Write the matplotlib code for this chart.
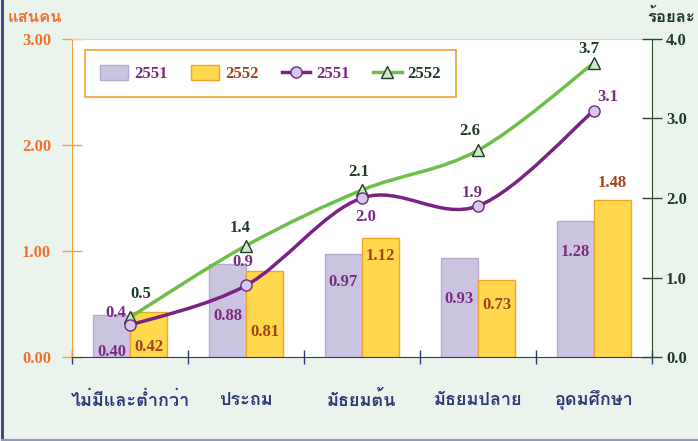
import numpy as np
import matplotlib
matplotlib.use("Agg")
import matplotlib.pyplot as plt
from matplotlib import font_manager
from matplotlib.ft2font import FT2Font
from matplotlib.path import Path
from matplotlib.patches import PathPatch, Patch
from matplotlib.lines import Line2D

categories = ["ไม่มีและต่ำกว่า", "ประถม", "มัธยมต้น", "มัธยมปลาย", "อุดมศึกษา"]
bars_2551 = [0.40, 0.88, 0.97, 0.93, 1.28]
bars_2552 = [0.42, 0.81, 1.12, 0.73, 1.48]
pct_2551 = [0.4, 0.9, 2.0, 1.9, 3.1]
pct_2552 = [0.5, 1.4, 2.1, 2.6, 3.7]
left_ticks = [0.0, 1.0, 2.0, 3.0]
right_ticks = [0.0, 1.0, 2.0, 3.0, 4.0]


def find_thai_family():
    found = []
    for f in font_manager.fontManager.ttflist:
        try:
            if 0x0E01 in FT2Font(f.fname).get_charmap():
                found.append(f.name)
        except Exception:
            pass
    return found[0] if found else "DejaVu Sans"


thai = find_thai_family()
num_font = ["Liberation Serif", "DejaVu Serif"]
thai_font = ["Liberation Serif", thai, "DejaVu Sans"]

c_purple = "#7b2a82"
c_brown = "#a4421a"
c_green_txt = "#1f3b26"
c_orange = "#f0702e"
c_navy = "#2e3a78"


def smooth_path(xs, ys):
    # Catmull-Rom style Bezier through the points (like Excel smoothed lines)
    pts = np.column_stack([xs, ys]).astype(float)
    n = len(pts)
    verts = [pts[0]]
    codes = [Path.MOVETO]
    for i in range(n - 1):
        p0 = pts[i - 1] if i > 0 else pts[i]
        p1 = pts[i]
        p2 = pts[i + 1]
        p3 = pts[i + 2] if i + 2 < n else pts[i + 1]
        verts += [p1 + (p2 - p0) / 6, p2 - (p3 - p1) / 6, p2]
        codes += [Path.CURVE4] * 3
    return Path(verts, codes)


fig = plt.figure(figsize=(6.98, 4.41), dpi=100)
fig.patch.set_facecolor("#eaf4ec")
ax = fig.add_axes([72 / 698, 1 - 357 / 441, 580 / 698, 318 / 441])
ax.set_facecolor("white")
x = np.arange(len(categories))
w = 0.32

ax.bar(x - w / 2, bars_2551, w, color="#cbc4e0", edgecolor="#b8a8d4", linewidth=1, zorder=2)
ax.bar(x + w / 2, bars_2552, w, color="#ffd84e", edgecolor="#f5a22a", linewidth=1, zorder=2)
ax.set_xlim(-0.5, len(categories) - 0.5)
ax.set_ylim(0, 3)

# bar value labels (offsets in points)
off_2551 = [-27, -38, -20, -29, -22]
off_2552 = [-25, -44, -13, -18, 12]
for i in range(len(categories)):
    ax.annotate(f"{bars_2551[i]:.2f}", (x[i] - w / 2, bars_2551[i]), xytext=(0, off_2551[i]),
                textcoords="offset points", ha="center", va="center", fontsize=12,
                fontweight="bold", family=num_font, color=c_purple, zorder=5)
    ax.annotate(f"{bars_2552[i]:.2f}", (x[i] + w / 2, bars_2552[i]), xytext=(0, off_2552[i]),
                textcoords="offset points", ha="center", va="center", fontsize=12,
                fontweight="bold", family=num_font, color=c_brown, zorder=5)

ax.set_xticks(np.arange(len(categories) + 1) - 0.5)
ax.set_xticklabels([])
ax.tick_params(axis="x", direction="inout", length=10, color=c_navy, width=1)
for i, c in enumerate(categories):
    ax.text(x[i], -0.41, c, ha="center", va="center", fontsize=13, fontweight="bold",
            family=thai_font, color=c_navy, transform=ax.transData, clip_on=False)

ax.set_yticks(left_ticks)
ax.set_yticklabels([f"{t:.2f}" for t in left_ticks], fontsize=12, fontweight="bold",
                   family=num_font, color=c_orange)
ax.tick_params(axis="y", direction="inout", length=14, color="#f5a040", width=1, pad=8)
ax.spines["left"].set_color("#f5a040")
ax.spines["bottom"].set_color(c_navy)
ax.spines["top"].set_color("#d8d0ec")
ax.spines["right"].set_visible(False)

ax2 = ax.twinx()
ax2.set_ylim(0, 4)
ax2.set_yticks(right_ticks)
ax2.set_yticklabels([f"{t:.1f}" for t in right_ticks], fontsize=12, fontweight="bold",
                    family=num_font, color=c_green_txt)
ax2.tick_params(axis="y", direction="inout", length=14, color="#2a4a30", width=1, pad=3)
ax2.spines["right"].set_color("#2a4a30")
ax2.spines["left"].set_visible(False)
ax2.spines["top"].set_visible(False)
ax2.spines["bottom"].set_visible(False)

ax2.add_patch(PathPatch(smooth_path(x, pct_2552), facecolor="none", edgecolor="#6cc04a",
                        linewidth=2.5, zorder=3))
ax2.add_patch(PathPatch(smooth_path(x, pct_2551), facecolor="none", edgecolor="#7b2383",
                        linewidth=2.5, zorder=3))
ax2.plot(x, pct_2552, linestyle="none", marker="^", markersize=9, markerfacecolor="#cde8c6",
         markeredgecolor="#1f3b26", markeredgewidth=1, zorder=4)
ax2.plot(x, pct_2551, linestyle="none", marker="o", markersize=8, markerfacecolor="#d2cbe8",
         markeredgecolor="#7b2383", markeredgewidth=1, zorder=4)

lbl_2552 = [(8, 17), (-4, 13), (-2, 13), (-6, 14), (-4, 10)]
lbl_2551 = [(-10, 9), (-2, 17), (3, -14), (-4, 9), (10, 10)]
for i in range(len(categories)):
    ax2.annotate(f"{pct_2552[i]:.1f}", (x[i], pct_2552[i]), xytext=lbl_2552[i],
                 textcoords="offset points", ha="center", va="center", fontsize=12,
                 fontweight="bold", family=num_font, color=c_green_txt, zorder=6)
    ax2.annotate(f"{pct_2551[i]:.1f}", (x[i], pct_2551[i]), xytext=lbl_2551[i],
                 textcoords="offset points", ha="center", va="center", fontsize=12,
                 fontweight="bold", family=num_font, color=c_purple, zorder=6)

handles = [
    Patch(facecolor="#cbc4e0", edgecolor="#b8a8d4"),
    Patch(facecolor="#ffd84e", edgecolor="#f5a22a"),
    Line2D([], [], color="#7b2383", linewidth=2.5, marker="o", markersize=8,
           markerfacecolor="#d2cbe8", markeredgecolor="#7b2383"),
    Line2D([], [], color="#6cc04a", linewidth=2.5, marker="^", markersize=8,
           markerfacecolor="#cde8c6", markeredgecolor="#1f3b26"),
]
leg = ax2.legend(handles, ["2551", "2552", "2551", "2552"], ncol=4, loc="upper left",
                 bbox_to_anchor=(0.022, 0.827, 0.64, 0.138), mode="expand", borderaxespad=0,
                 fancybox=False, edgecolor="#f5a030", framealpha=1,
                 prop={"family": num_font, "weight": "bold", "size": 12},
                 handlelength=1.7, handleheight=1.0, handletextpad=0.35,
                 borderpad=0.9, columnspacing=1.5)
leg.get_frame().set_linewidth(1.2)
for t, c in zip(leg.get_texts(), [c_purple, c_brown, c_purple, c_green_txt]):
    t.set_color(c)

fig.text(35 / 698, 1 - 18 / 441, "แสนคน", ha="center", va="center", fontsize=12,
         fontweight="bold", family=thai_font, color=c_orange)
fig.text(671 / 698, 1 - 18 / 441, "ร้อยละ", ha="center", va="center", fontsize=12,
         fontweight="bold", family=thai_font, color=c_green_txt)

# figure border on the left and bottom
fig.add_artist(Line2D([0.003, 0.003], [0.002, 1], transform=fig.transFigure,
                      color="#3a3f80", linewidth=2))
fig.add_artist(Line2D([0.003, 1], [0.002, 0.002], transform=fig.transFigure,
                      color="#9098b8", linewidth=1.5))

fig.savefig("out.png", dpi=100, facecolor=fig.get_facecolor())
